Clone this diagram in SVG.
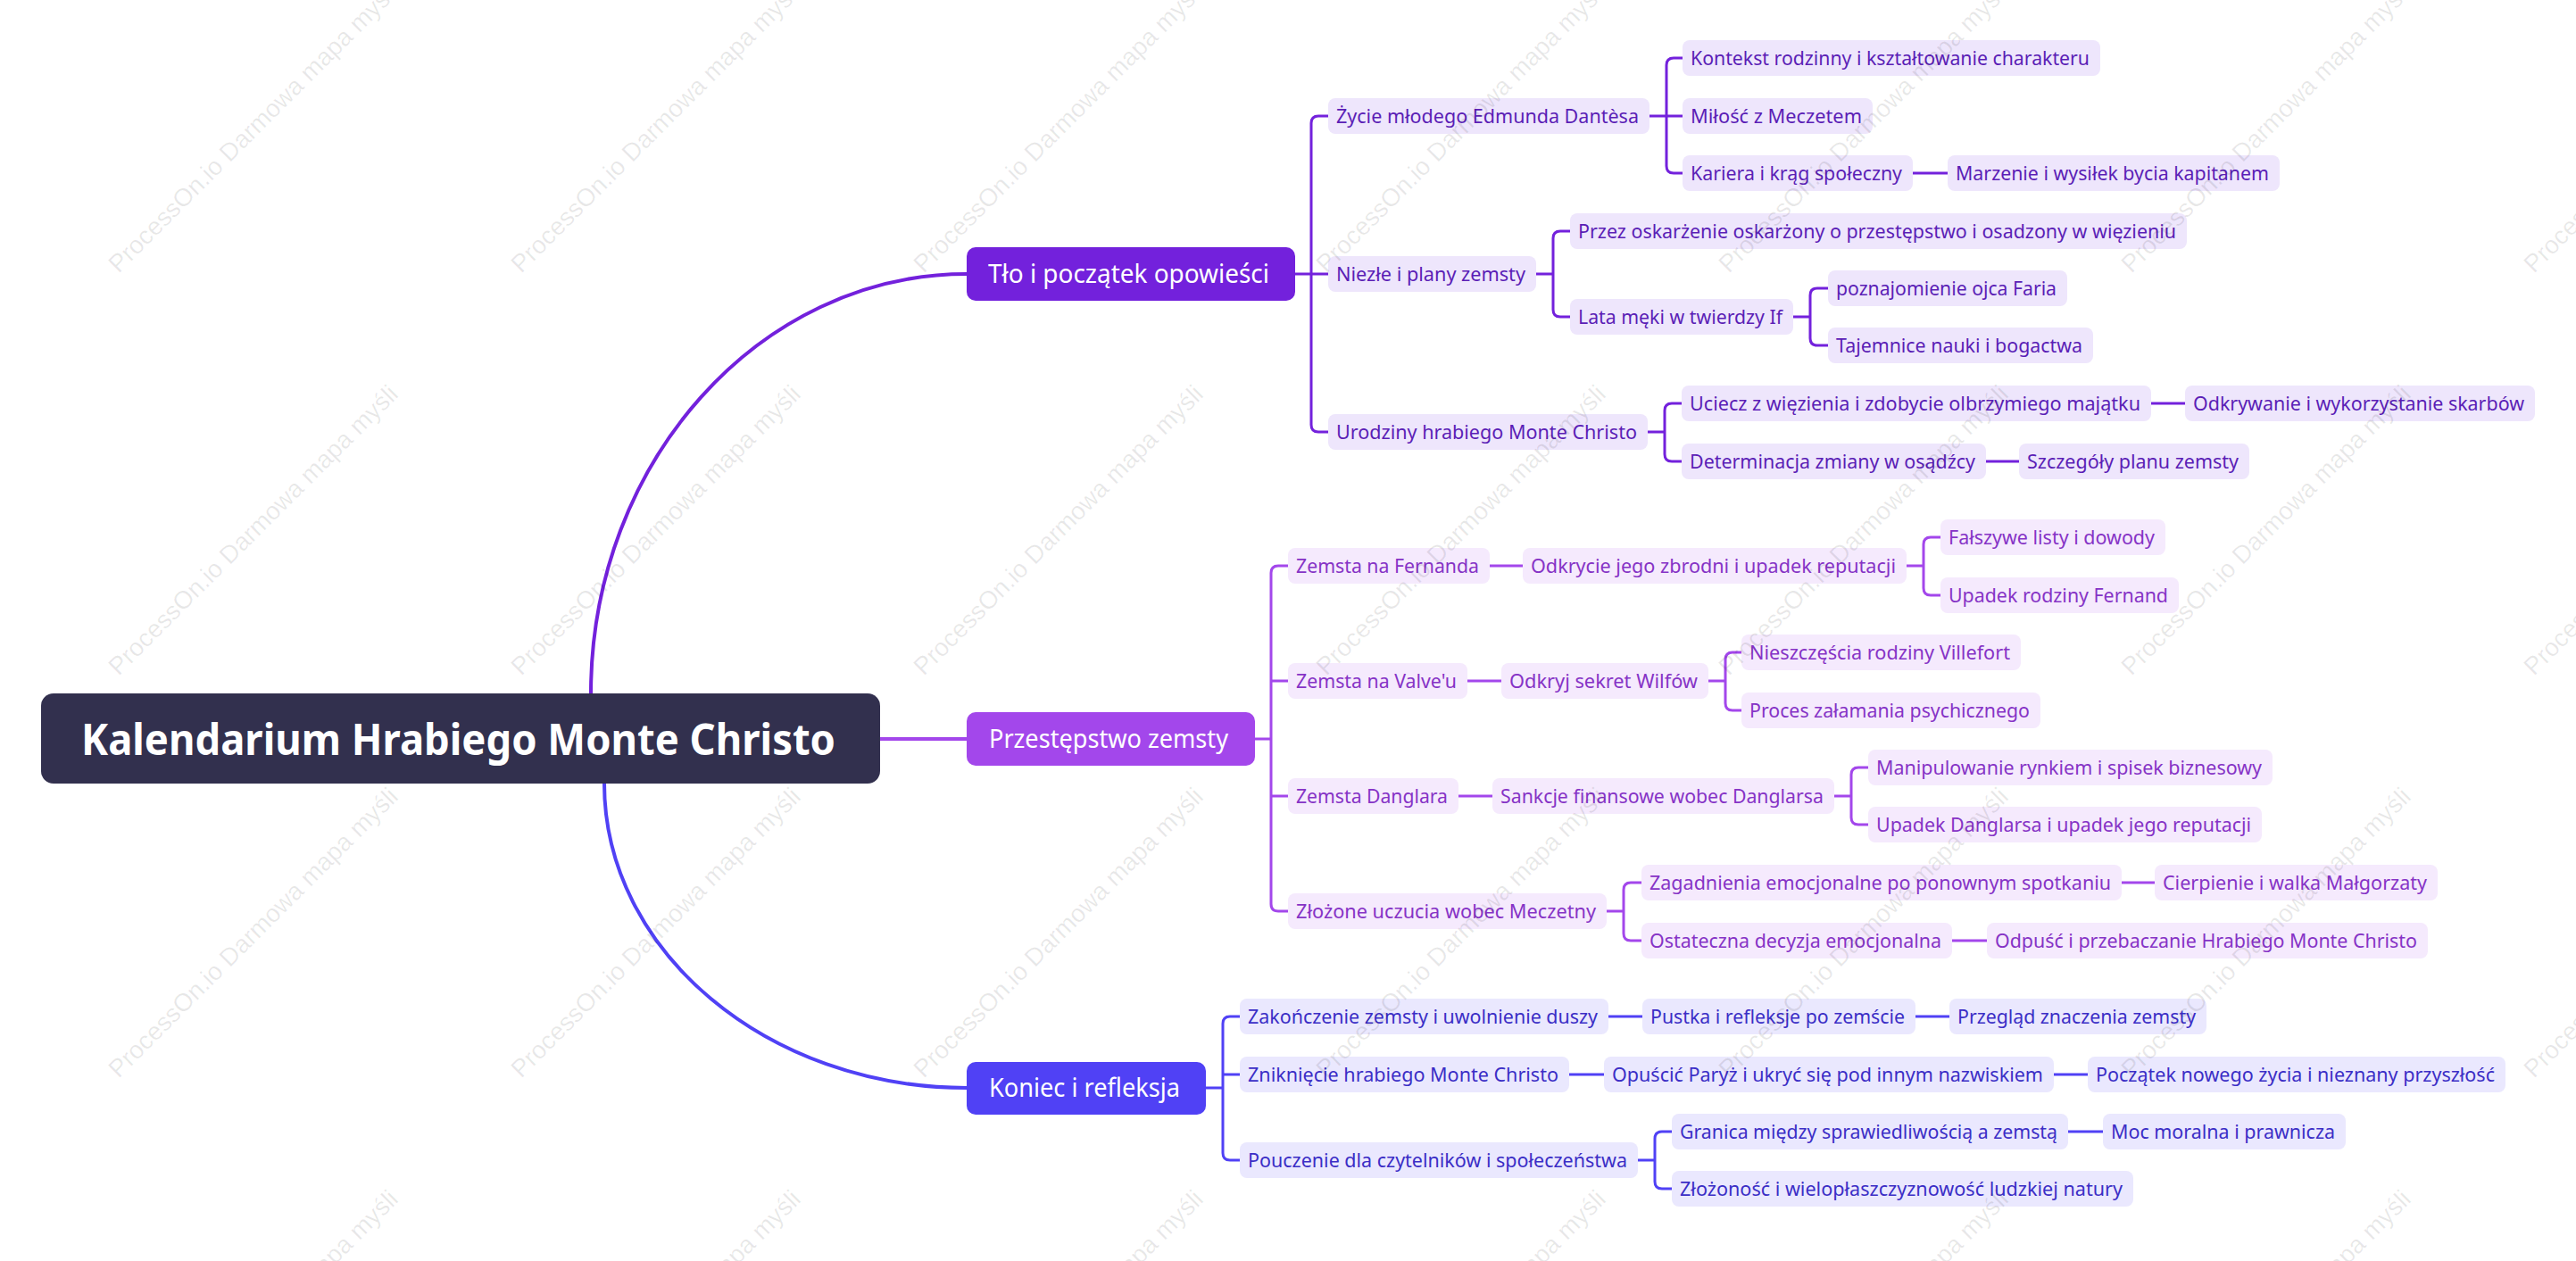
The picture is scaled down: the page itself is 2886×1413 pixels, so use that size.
<svg xmlns="http://www.w3.org/2000/svg" width="2886" height="1413" viewBox="0 0 2886 1413">
<style>
text{font-family:"Segoe UI","Noto Sans","Liberation Sans",sans-serif;}
.root rect{fill:#32304e;}
.root text{fill:#fff;font-size:48px;font-weight:bold;}
.l1 text{fill:#fff;font-size:29px;}
.n text{font-size:22px;}
.b1 .n rect{fill:#eee6fc;} .b1 .n text{fill:#5b1eb6;}
.b2 .n rect{fill:#f5eafd;} .b2 .n text{fill:#8633c6;}
.b3 .n rect{fill:#eae8fe;} .b3 .n text{fill:#3b2ec6;}
.c{fill:none;stroke-width:3;stroke-linecap:butt;}
.c1{stroke:#7321dc;} .c2{stroke:#a347eb;} .c3{stroke:#5041f5;}
.rc{stroke-width:4;}
.wm{font-family:"Liberation Sans",Arial,sans-serif;font-size:28px;fill:#000;fill-opacity:0.09;}
</style>
<rect width="2886" height="1413" fill="#fff"/>
<g id="connectors">
<path class="c c1 rc" d="M662,777 C662,518 851,307 1083,307"/>
<path class="c c2 rc" d="M986,828 H1083"/>
<path class="c c3 rc" d="M677,878 C677,1066 860,1219 1083,1219"/>
<path class="c c1" d="M1451,307 H1488 M1488,130 H1477 Q1469,130 1469,138 V476 Q1469,484 1477,484 H1488"/>
<path class="c c1" d="M1848,130 H1885 M1885,65 H1875 Q1867,65 1867,73 V186 Q1867,194 1875,194 H1885"/>
<path class="c c1" d="M2143,194 H2182"/>
<path class="c c1" d="M1721,307 H1740 M1759,259 H1748 Q1740,259 1740,267 V347 Q1740,355 1748,355 H1759"/>
<path class="c c1" d="M2009,355 H2028 M2048,323 H2036 Q2028,323 2028,331 V379 Q2028,387 2036,387 H2048"/>
<path class="c c1" d="M1846,484 H1865 M1884,452 H1873 Q1865,452 1865,460 V509 Q1865,517 1873,517 H1884"/>
<path class="c c1" d="M2410,452 H2448"/>
<path class="c c1" d="M2225,517 H2262"/>
<path class="c c2" d="M1406,828 H1424 M1443,634 H1432 Q1424,634 1424,642 V1013 Q1424,1021 1432,1021 H1443 M1424,763 H1443 M1424,892 H1443"/>
<path class="c c2" d="M1669,634 H1706"/>
<path class="c c2" d="M2136,634 H2155 M2174,602 H2163 Q2155,602 2155,610 V659 Q2155,667 2163,667 H2174"/>
<path class="c c2" d="M1644,763 H1682"/>
<path class="c c2" d="M1914,763 H1933 M1951,731 H1941 Q1933,731 1933,739 V788 Q1933,796 1941,796 H1951"/>
<path class="c c2" d="M1634,892 H1672"/>
<path class="c c2" d="M2055,892 H2074 M2093,860 H2082 Q2074,860 2074,868 V916 Q2074,924 2082,924 H2093"/>
<path class="c c2" d="M1800,1021 H1819 M1839,989 H1827 Q1819,989 1819,997 V1046 Q1819,1054 1827,1054 H1839"/>
<path class="c c2" d="M2377,989 H2414"/>
<path class="c c2" d="M2187,1054 H2226"/>
<path class="c c3" d="M1351,1219 H1370 M1389,1139 H1378 Q1370,1139 1370,1147 V1292 Q1370,1300 1378,1300 H1389 M1370,1204 H1389"/>
<path class="c c3" d="M1802,1139 H1840"/>
<path class="c c3" d="M2146,1139 H2184"/>
<path class="c c3" d="M1758,1204 H1797"/>
<path class="c c3" d="M2301,1204 H2339"/>
<path class="c c3" d="M1835,1300 H1854 M1873,1268 H1862 Q1854,1268 1854,1276 V1324 Q1854,1332 1862,1332 H1873"/>
<path class="c c3" d="M2317,1268 H2356"/>
</g>
<g id="root" class="root">
<rect x="46" y="777" width="940" height="101" rx="14"/>
<text x="91" y="846" textLength="845" lengthAdjust="spacingAndGlyphs">Kalendarium Hrabiego Monte Christo</text>
</g>
<g class="b1">
<g id="n-tlo" class="l1"><rect x="1083" y="277" width="368" height="60" rx="10" fill="#7321dc"/><text x="1107" y="317" textLength="315" lengthAdjust="spacingAndGlyphs">Tło i początek opowieści</text></g>
<g id="n1" class="n"><rect x="1488" y="110" width="360" height="40" rx="8"/><text x="1497" y="138" textLength="339" lengthAdjust="spacingAndGlyphs">Życie młodego Edmunda Dantèsa</text></g>
<g id="n2" class="n"><rect x="1885" y="45" width="468" height="40" rx="8"/><text x="1894" y="73" textLength="447" lengthAdjust="spacingAndGlyphs">Kontekst rodzinny i kształtowanie charakteru</text></g>
<g id="n3" class="n"><rect x="1885" y="110" width="213" height="40" rx="8"/><text x="1894" y="138" textLength="192" lengthAdjust="spacingAndGlyphs">Miłość z Meczetem</text></g>
<g id="n4" class="n"><rect x="1885" y="174" width="258" height="40" rx="8"/><text x="1894" y="202" textLength="237" lengthAdjust="spacingAndGlyphs">Kariera i krąg społeczny</text></g>
<g id="n5" class="n"><rect x="2182" y="174" width="372" height="40" rx="8"/><text x="2191" y="202" textLength="351" lengthAdjust="spacingAndGlyphs">Marzenie i wysiłek bycia kapitanem</text></g>
<g id="n6" class="n"><rect x="1488" y="287" width="233" height="40" rx="8"/><text x="1497" y="315" textLength="212" lengthAdjust="spacingAndGlyphs">Niezłe i plany zemsty</text></g>
<g id="n7" class="n"><rect x="1759" y="239" width="691" height="40" rx="8"/><text x="1768" y="267" textLength="670" lengthAdjust="spacingAndGlyphs">Przez oskarżenie oskarżony o przestępstwo i osadzony w więzieniu</text></g>
<g id="n8" class="n"><rect x="1759" y="335" width="250" height="40" rx="8"/><text x="1768" y="363" textLength="229" lengthAdjust="spacingAndGlyphs">Lata męki w twierdzy If</text></g>
<g id="n9" class="n"><rect x="2048" y="303" width="268" height="40" rx="8"/><text x="2057" y="331" textLength="247" lengthAdjust="spacingAndGlyphs">poznajomienie ojca Faria</text></g>
<g id="n10" class="n"><rect x="2048" y="367" width="297" height="40" rx="8"/><text x="2057" y="395" textLength="276" lengthAdjust="spacingAndGlyphs">Tajemnice nauki i bogactwa</text></g>
<g id="n11" class="n"><rect x="1488" y="464" width="358" height="40" rx="8"/><text x="1497" y="492" textLength="337" lengthAdjust="spacingAndGlyphs">Urodziny hrabiego Monte Christo</text></g>
<g id="n12" class="n"><rect x="1884" y="432" width="526" height="40" rx="8"/><text x="1893" y="460" textLength="505" lengthAdjust="spacingAndGlyphs">Uciecz z więzienia i zdobycie olbrzymiego majątku</text></g>
<g id="n13" class="n"><rect x="2448" y="432" width="392" height="40" rx="8"/><text x="2457" y="460" textLength="371" lengthAdjust="spacingAndGlyphs">Odkrywanie i wykorzystanie skarbów</text></g>
<g id="n14" class="n"><rect x="1884" y="497" width="341" height="40" rx="8"/><text x="1893" y="525" textLength="320" lengthAdjust="spacingAndGlyphs">Determinacja zmiany w osądźcy</text></g>
<g id="n15" class="n"><rect x="2262" y="497" width="258" height="40" rx="8"/><text x="2271" y="525" textLength="237" lengthAdjust="spacingAndGlyphs">Szczegóły planu zemsty</text></g>
</g>
<g class="b2">
<g id="n-prz" class="l1"><rect x="1083" y="798" width="323" height="60" rx="10" fill="#a347eb"/><text x="1108" y="838" textLength="268" lengthAdjust="spacingAndGlyphs">Przestępstwo zemsty</text></g>
<g id="n16" class="n"><rect x="1443" y="614" width="226" height="40" rx="8"/><text x="1452" y="642" textLength="205" lengthAdjust="spacingAndGlyphs">Zemsta na Fernanda</text></g>
<g id="n17" class="n"><rect x="1706" y="614" width="430" height="40" rx="8"/><text x="1715" y="642" textLength="409" lengthAdjust="spacingAndGlyphs">Odkrycie jego zbrodni i upadek reputacji</text></g>
<g id="n18" class="n"><rect x="2174" y="582" width="252" height="40" rx="8"/><text x="2183" y="610" textLength="231" lengthAdjust="spacingAndGlyphs">Fałszywe listy i dowody</text></g>
<g id="n19" class="n"><rect x="2174" y="647" width="267" height="40" rx="8"/><text x="2183" y="675" textLength="246" lengthAdjust="spacingAndGlyphs">Upadek rodziny Fernand</text></g>
<g id="n20" class="n"><rect x="1443" y="743" width="201" height="40" rx="8"/><text x="1452" y="771" textLength="180" lengthAdjust="spacingAndGlyphs">Zemsta na Valve'u</text></g>
<g id="n21" class="n"><rect x="1682" y="743" width="232" height="40" rx="8"/><text x="1691" y="771" textLength="211" lengthAdjust="spacingAndGlyphs">Odkryj sekret Wilfów</text></g>
<g id="n22" class="n"><rect x="1951" y="711" width="313" height="40" rx="8"/><text x="1960" y="739" textLength="292" lengthAdjust="spacingAndGlyphs">Nieszczęścia rodziny Villefort</text></g>
<g id="n23" class="n"><rect x="1951" y="776" width="335" height="40" rx="8"/><text x="1960" y="804" textLength="314" lengthAdjust="spacingAndGlyphs">Proces załamania psychicznego</text></g>
<g id="n24" class="n"><rect x="1443" y="872" width="191" height="40" rx="8"/><text x="1452" y="900" textLength="170" lengthAdjust="spacingAndGlyphs">Zemsta Danglara</text></g>
<g id="n25" class="n"><rect x="1672" y="872" width="383" height="40" rx="8"/><text x="1681" y="900" textLength="362" lengthAdjust="spacingAndGlyphs">Sankcje finansowe wobec Danglarsa</text></g>
<g id="n26" class="n"><rect x="2093" y="840" width="453" height="40" rx="8"/><text x="2102" y="868" textLength="432" lengthAdjust="spacingAndGlyphs">Manipulowanie rynkiem i spisek biznesowy</text></g>
<g id="n27" class="n"><rect x="2093" y="904" width="441" height="40" rx="8"/><text x="2102" y="932" textLength="420" lengthAdjust="spacingAndGlyphs">Upadek Danglarsa i upadek jego reputacji</text></g>
<g id="n28" class="n"><rect x="1443" y="1001" width="357" height="40" rx="8"/><text x="1452" y="1029" textLength="336" lengthAdjust="spacingAndGlyphs">Złożone uczucia wobec Meczetny</text></g>
<g id="n29" class="n"><rect x="1839" y="969" width="538" height="40" rx="8"/><text x="1848" y="997" textLength="517" lengthAdjust="spacingAndGlyphs">Zagadnienia emocjonalne po ponownym spotkaniu</text></g>
<g id="n30" class="n"><rect x="2414" y="969" width="317" height="40" rx="8"/><text x="2423" y="997" textLength="296" lengthAdjust="spacingAndGlyphs">Cierpienie i walka Małgorzaty</text></g>
<g id="n31" class="n"><rect x="1839" y="1034" width="348" height="40" rx="8"/><text x="1848" y="1062" textLength="327" lengthAdjust="spacingAndGlyphs">Ostateczna decyzja emocjonalna</text></g>
<g id="n32" class="n"><rect x="2226" y="1034" width="494" height="40" rx="8"/><text x="2235" y="1062" textLength="473" lengthAdjust="spacingAndGlyphs">Odpuść i przebaczanie Hrabiego Monte Christo</text></g>
</g>
<g class="b3">
<g id="n-kon" class="l1"><rect x="1083" y="1190" width="268" height="59" rx="10" fill="#5041f5"/><text x="1108" y="1229" textLength="214" lengthAdjust="spacingAndGlyphs">Koniec i refleksja</text></g>
<g id="n33" class="n"><rect x="1389" y="1119" width="413" height="40" rx="8"/><text x="1398" y="1147" textLength="392" lengthAdjust="spacingAndGlyphs">Zakończenie zemsty i uwolnienie duszy</text></g>
<g id="n34" class="n"><rect x="1840" y="1119" width="306" height="40" rx="8"/><text x="1849" y="1147" textLength="285" lengthAdjust="spacingAndGlyphs">Pustka i refleksje po zemście</text></g>
<g id="n35" class="n"><rect x="2184" y="1119" width="288" height="40" rx="8"/><text x="2193" y="1147" textLength="267" lengthAdjust="spacingAndGlyphs">Przegląd znaczenia zemsty</text></g>
<g id="n36" class="n"><rect x="1389" y="1184" width="369" height="40" rx="8"/><text x="1398" y="1212" textLength="348" lengthAdjust="spacingAndGlyphs">Zniknięcie hrabiego Monte Christo</text></g>
<g id="n37" class="n"><rect x="1797" y="1184" width="504" height="40" rx="8"/><text x="1806" y="1212" textLength="483" lengthAdjust="spacingAndGlyphs">Opuścić Paryż i ukryć się pod innym nazwiskiem</text></g>
<g id="n38" class="n"><rect x="2339" y="1184" width="468" height="40" rx="8"/><text x="2348" y="1212" textLength="447" lengthAdjust="spacingAndGlyphs">Początek nowego życia i nieznany przyszłość</text></g>
<g id="n39" class="n"><rect x="1389" y="1280" width="446" height="40" rx="8"/><text x="1398" y="1308" textLength="425" lengthAdjust="spacingAndGlyphs">Pouczenie dla czytelników i społeczeństwa</text></g>
<g id="n40" class="n"><rect x="1873" y="1248" width="444" height="40" rx="8"/><text x="1882" y="1276" textLength="423" lengthAdjust="spacingAndGlyphs">Granica między sprawiedliwością a zemstą</text></g>
<g id="n41" class="n"><rect x="2356" y="1248" width="272" height="40" rx="8"/><text x="2365" y="1276" textLength="251" lengthAdjust="spacingAndGlyphs">Moc moralna i prawnicza</text></g>
<g id="n42" class="n"><rect x="1873" y="1312" width="517" height="40" rx="8"/><text x="1882" y="1340" textLength="496" lengthAdjust="spacingAndGlyphs">Złożoność i wielopłaszczyznowość ludzkiej natury</text></g>
</g>
<defs><text id="wm" class="wm" transform="rotate(-45)">ProcessOn.io Darmowa mapa myśli</text></defs>
<g id="watermark">
<use href="#wm" x="0" y="0" transform="translate(133,307)"/><use href="#wm" transform="translate(584,307)"/><use href="#wm" transform="translate(1035,307)"/><use href="#wm" transform="translate(1486,307)"/><use href="#wm" transform="translate(1937,307)"/><use href="#wm" transform="translate(2388,307)"/><use href="#wm" transform="translate(2839,307)"/>
<use href="#wm" transform="translate(133,758)"/><use href="#wm" transform="translate(584,758)"/><use href="#wm" transform="translate(1035,758)"/><use href="#wm" transform="translate(1486,758)"/><use href="#wm" transform="translate(1937,758)"/><use href="#wm" transform="translate(2388,758)"/><use href="#wm" transform="translate(2839,758)"/>
<use href="#wm" transform="translate(133,1209)"/><use href="#wm" transform="translate(584,1209)"/><use href="#wm" transform="translate(1035,1209)"/><use href="#wm" transform="translate(1486,1209)"/><use href="#wm" transform="translate(1937,1209)"/><use href="#wm" transform="translate(2388,1209)"/><use href="#wm" transform="translate(2839,1209)"/>
<use href="#wm" transform="translate(133,1660)"/><use href="#wm" transform="translate(584,1660)"/><use href="#wm" transform="translate(1035,1660)"/><use href="#wm" transform="translate(1486,1660)"/><use href="#wm" transform="translate(1937,1660)"/><use href="#wm" transform="translate(2388,1660)"/><use href="#wm" transform="translate(2839,1660)"/>
</g>
</svg>
